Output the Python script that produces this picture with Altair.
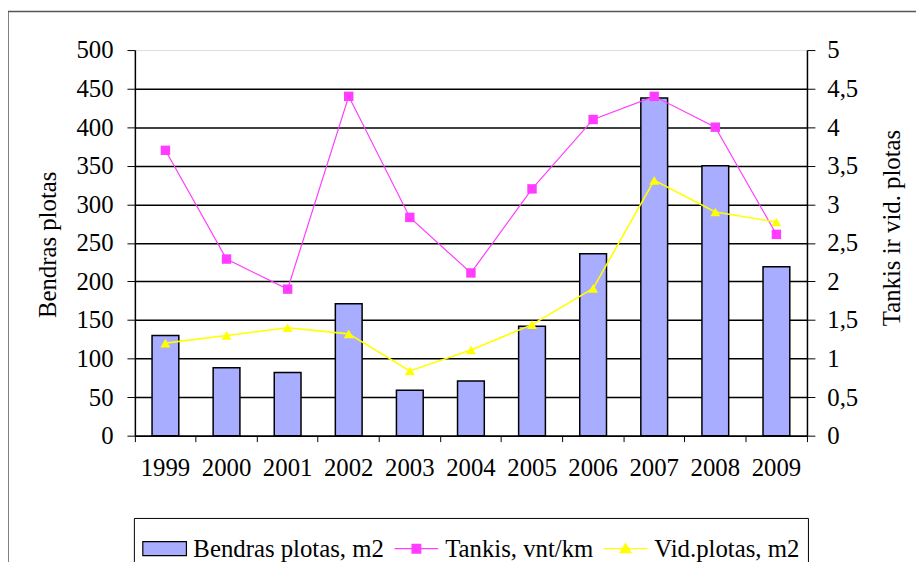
import altair as alt
import pandas as pd

# ---------------- data ----------------
years = ["1999", "2000", "2001", "2002", "2003", "2004", "2005", "2006", "2007", "2008", "2009"]
bendras = [130, 88, 82, 171, 59, 71, 142, 236, 438, 350, 219]
tankis = [3.70, 2.29, 1.90, 4.40, 2.83, 2.11, 3.20, 4.10, 4.40, 4.00, 2.61]
vid = [1.20, 1.30, 1.40, 1.32, 0.84, 1.11, 1.44, 1.91, 3.31, 2.90, 2.77]

series = ["Bendras plotas, m2", "Tankis, vnt/km", "Vid.plotas, m2"]
left_ticks = [0, 50, 100, 150, 200, 250, 300, 350, 400, 450, 500]
right_ticks = [0, 0.5, 1, 1.5, 2, 2.5, 3, 3.5, 4, 4.5, 5]

# ---------------- styles ----------------
BAR = "#A8ADFF"
MAG = "#FF3CFF"
YEL = "#FFFF00"
FONT = "Liberation Serif, DejaVu Serif, Noto Serif, serif"
FS = 25
W, H = 678, 389

series_fill = [BAR, MAG, YEL]
series_stroke = ["#000000", MAG, YEL]
series_shape = [
    "M-1,-0.32H1V0.32H-1Z",
    "M-1,0H1M-0.2,-0.2H0.2V0.2H-0.2Z",
    "M-1,0H1M0,-0.24L0.25,0.18H-0.25Z",
]

df = pd.DataFrame({"year": years, "bendras": bendras, "tankis": tankis, "vid": vid})

x_enc = alt.X(
    "year:N",
    sort=years,
    scale=alt.Scale(paddingInner=0, paddingOuter=0),
    axis=alt.Axis(
        title=None, bandPosition=1, tickExtra=True,
        tickSize=6, labelPadding=14, labelAngle=0,
        domainColor="black", tickColor="black", domainWidth=1.5,
        labelFont=FONT, labelFontSize=FS, labelColor="black",
    ),
)

bars = alt.Chart(df).mark_bar(size=27, color=BAR, stroke="black", strokeWidth=1.5).encode(
    x=x_enc,
    y=alt.Y(
        "bendras:Q",
        scale=alt.Scale(domain=[0, 500], nice=False),
        axis=alt.Axis(
            orient="left", title="Bendras plotas", values=left_ticks,
            grid=True,
            gridColor={"condition": {"test": "datum.value == 500", "value": "transparent"}, "value": "black"},
            gridWidth=1.5,
            tickSize=8, labelPadding=14, domainColor="black", tickColor="black", domainWidth=1.5,
            labelFont=FONT, labelFontSize=FS, labelColor="black",
            titleFont=FONT, titleFontSize=FS, titleFontWeight="normal", titleColor="black",
            titleAngle=270, titleX=-88, titleY=196, titleAlign="center", titleBaseline="middle",
        ),
    ),
)

right_axis = alt.Axis(
    orient="right", title="Tankis ir vid. plotas", values=right_ticks, grid=False,
    labelExpr="replace(toString(datum.value), '.', ',')",
    tickSize=8, labelPadding=12, domainColor="black", tickColor="black", domainWidth=1.5,
    labelFont=FONT, labelFontSize=FS, labelColor="black",
    titleFont=FONT, titleFontSize=FS, titleFontWeight="normal", titleColor="black",
    titleAngle=270, titleX=85, titleY=179, titleAlign="center", titleBaseline="middle",
)

tline = alt.Chart(df).mark_line(
    color=MAG, strokeWidth=1.2,
    point=alt.OverlayMarkDef(shape="square", size=90, filled=True, color=MAG),
).encode(
    x=x_enc,
    y=alt.Y("tankis:Q", scale=alt.Scale(domain=[0, 5], nice=False), axis=right_axis),
)

vline = alt.Chart(df).mark_line(
    color=YEL, strokeWidth=1.6,
    point=alt.OverlayMarkDef(shape="triangle-up", size=100, filled=True, color=YEL),
).encode(
    x=x_enc,
    y=alt.Y("vid:Q", scale=alt.Scale(domain=[0, 5], nice=False), axis=right_axis),
)

lines = alt.layer(tline, vline)

legend = alt.Legend(
    title=None, orient="none", legendX=-1, legendY=472, direction="horizontal", columns=3,
    strokeColor="black", fillColor="white", padding=8,
    labelFont=FONT, labelFontSize=FS, labelColor="black", labelLimit=400, labelOffset=6,
    symbolSize=1936, symbolStrokeWidth=1.2, symbolOpacity=1, columnPadding=7,
)

leg = alt.Chart(pd.DataFrame({"s": series})).mark_point(opacity=0, size=1936, strokeWidth=1.2).encode(
    fill=alt.Fill("s:N", sort=series, scale=alt.Scale(domain=series, range=series_fill), legend=legend),
    stroke=alt.Stroke("s:N", sort=series, scale=alt.Scale(domain=series, range=series_stroke), legend=legend),
    shape=alt.Shape("s:N", sort=series, scale=alt.Scale(domain=series, range=series_shape), legend=legend),
)

frame = alt.Chart(pd.DataFrame({"f": [0]})).mark_rect(
    fill="transparent", stroke="#555555", strokeWidth=1.5
).encode(
    x=alt.value(-128), x2=alt.value(1000), y=alt.value(-39), y2=alt.value(700)
)

chart = alt.layer(bars, lines, leg, frame).resolve_scale(y="independent").properties(
    width=W, height=H,
    autosize=alt.AutoSizeParams(type="none"),
    padding={"left": 128, "top": 40, "right": 110, "bottom": 125},
).configure_view(fill="#CBCBCB", stroke="#8C8C8C", strokeWidth=1).configure(background="white")

chart.save("out.html", embed_options={"renderer": "svg", "actions": False})
